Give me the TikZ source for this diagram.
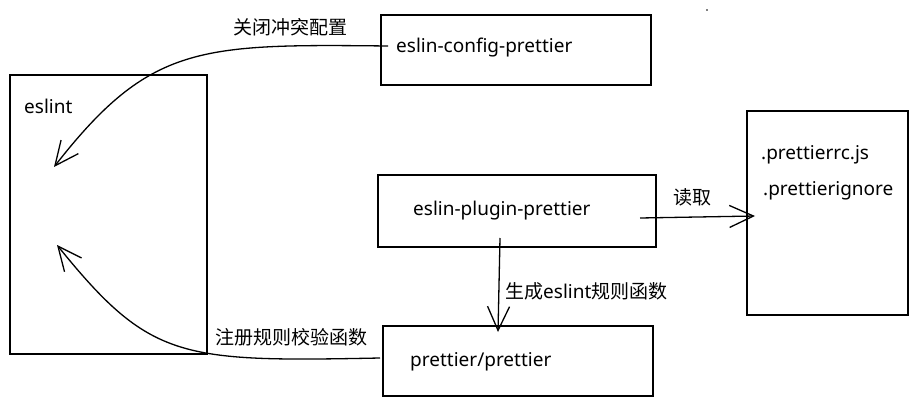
\documentclass[tikz,border=0pt]{standalone}
\usepackage{fontspec}
\setmainfont{Noto Sans}
\newfontfamily\cjk{Noto Sans CJK SC}
\usetikzlibrary{arrows.meta,positioning}

\begin{document}
\begin{tikzpicture}[x=1pt,y=-1pt,>={Straight Barb[length=24pt,width=22pt]},
  box/.style={draw,line width=1.3pt,inner sep=0pt},
  txt/.style={anchor=west,inner sep=0pt,font=\fontsize{19}{23}\selectfont},
  lbl/.style={inner sep=0pt,font=\cjk\fontsize{19}{23}\selectfont},
  link/.style={->,line width=1.3pt}]
  \useasboundingbox (0,0) rectangle (917,406);

  % Boxes
  \node[box,minimum width=197,minimum height=279] (eslint) at (108.5,214.5) {};
  \node[box,minimum width=270,minimum height=70] (cfg) at (516,50) {};
  \node[box,minimum width=278,minimum height=72] (plugin) at (517,211) {};
  \node[box,minimum width=270,minimum height=70] (rule) at (518,361) {};
  \node[box,minimum width=161,minimum height=204] (files) at (827.5,213) {};

  % Box texts
  \node[txt] (eslintT) at (24,106) {eslint};
  \node[txt] (cfgT) at (396,48) {eslin-config-prettier};
  \node[txt] (pluginT) at (413,211) {eslin-plugin-prettier};
  \node[txt] (ruleT) at (410,362) {prettier/prettier};
  \node[txt] (rcT) at (761,155) {.prettierrc.js};
  \node[txt] (ignoreT) at (763,191) {.prettierignore};

  % Arrow ends
  \coordinate (cfgOut) at (388,46);
  \coordinate (eslintIn) at (54,167);
  \coordinate (ruleOut) at (380,358);
  \coordinate (eslintReg) at (57,245);
  \coordinate (readOut) at (640,218);
  \coordinate (readIn) at (755,216);
  \coordinate (genOut) at (500,238);
  \coordinate (genIn) at (498,332);

  % Connectors
  \draw[link] (cfgOut) .. controls (200,44) and (150,44) .. (eslintIn);
  \draw[link] (ruleOut) .. controls (180,362) and (150,360) .. (eslintReg);
  \draw[link] (readOut) -- (readIn);
  \draw[link] (genOut) -- (genIn);

  % Connector labels
  \node[lbl] (offL) at (290,27) {关闭冲突配置};
  \node[lbl] (readL) at (692,197) {读取};
  \node[lbl,anchor=west] (genL) at (505,291) {生成{\rmfamily eslint}规则函数};
  \node[lbl] (regL) at (291,337) {注册规则校验函数};

  % Stray dot
  \fill (707,10) circle (0.8);
\end{tikzpicture}
\end{document}
